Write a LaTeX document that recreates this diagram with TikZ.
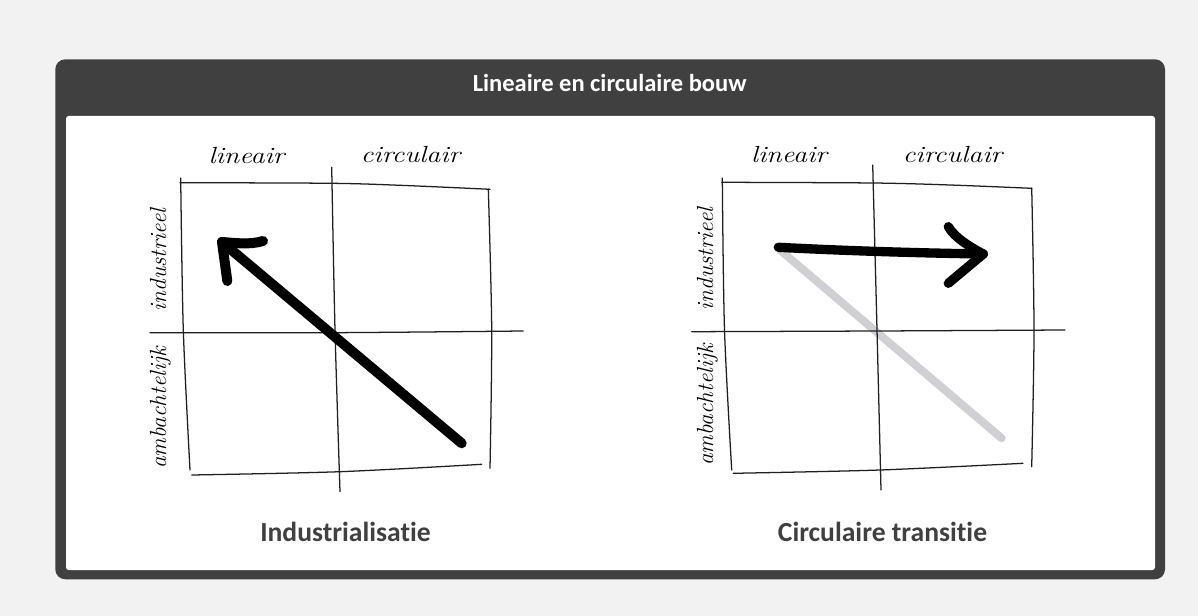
\documentclass[tikz,border=0pt]{standalone}
\usepackage{fontspec}
\newfontfamily\calib[Ligatures=NoCommon]{Carlito}
\definecolor{framegray}{HTML}{404040}
\definecolor{bggray}{HTML}{F2F2F2}
\definecolor{ghost}{HTML}{D0D0D4}
\tikzset{
  gridline/.style={line width=0.95pt, draw=black!88, line cap=round, line join=round},
  hand/.style={font=\fontsize{17.5}{20}\selectfont\itshape, text=black, inner sep=0pt},
  handx/.style={hand, xscale=1.2},
  fatstroke/.style={line width=7.5pt, draw=black, line cap=round, line join=round},
  ghoststroke/.style={line width=6pt, draw=ghost, line cap=round, line join=round},
  titletext/.style={font=\calib\bfseries\fontsize{18.4}{22}\selectfont, text=white, inner sep=0pt},
  captext/.style={font=\calib\bfseries\fontsize{20.7}{24}\selectfont, text=framegray, inner sep=0pt}
}
\begin{document}
\begin{tikzpicture}[x=0.75pt,y=-0.75pt]
\fill[bggray] (0,0) rectangle (1198,616);
\useasboundingbox (0,0) rectangle (1198,616);
% frame
\fill[framegray, rounded corners=7.5pt] (55.3,59.3) rectangle (1165,579.3);
\fill[white, rounded corners=2pt] (66,116) rectangle (1155,570);
\node[titletext, anchor=base] (title) at (609.7,91.3) {Lineaire en circulaire bouw};

% ---------- left diagram ----------
\coordinate (Lt1) at (180,182.7); \coordinate (Lt2) at (332,183.3); \coordinate (Lt3) at (405,185.5); \coordinate (Lt4) at (490,189.3);
\coordinate (Ll1) at (180.7,178); \coordinate (Ll2) at (183.3,330); \coordinate (Ll3) at (190,470);
\coordinate (Lb1) at (191.7,475); \coordinate (Lb2) at (340,471.7); \coordinate (Lb3) at (481.7,464.3);
\coordinate (Lr1) at (488.3,189); \coordinate (Lr2) at (491.7,330); \coordinate (Lr3) at (490,468.3);
\coordinate (Lv1) at (331.7,167.3); \coordinate (Lv2) at (335,330); \coordinate (Lv3) at (340,491.7);
\coordinate (Lh1) at (150,332.7); \coordinate (Lh2) at (333,332.7); \coordinate (Lh3) at (523.3,331);
\draw[gridline] plot[smooth] coordinates {(Lt1) (Lt2) (Lt3) (Lt4)};
\draw[gridline] plot[smooth] coordinates {(Ll1) (Ll2) (Ll3)};
\draw[gridline] plot[smooth] coordinates {(Lb1) (Lb2) (Lb3)};
\draw[gridline] plot[smooth] coordinates {(Lr1) (Lr2) (Lr3)};
\draw[gridline] plot[smooth] coordinates {(Lv1) (Lv2) (Lv3)};
\draw[gridline] plot[smooth] coordinates {(Lh1) (Lh2) (Lh3)};
\node[handx, anchor=base] (Llin) at (246.5,163.3) {lineair};
\node[handx, anchor=base] (Lcirc) at (410.5,163) {circulair};
\node[hand, rotate=90, anchor=base] (Lind) at (166,260) {industrieel};
\node[hand, rotate=90, anchor=base] (Lamb) at (166,408) {ambachtelijk};
% arrow
\coordinate (Ltail) at (461.7,443.3);
\coordinate (Ltip) at (222,242);
\coordinate (Lh-up) at (263,241);
\coordinate (Lh-dn) at (227.3,281);
\draw[fatstroke] (Ltail) -- (Ltip);
\draw[fatstroke] (Lh-up) .. controls (250,245) and (235,243) .. (Ltip) -- (Lh-dn);
\node[captext, anchor=base] (Lcap) at (345.5,541.7) {Industrialisatie};

% ---------- right diagram ----------
\coordinate (Gs) at (780,250); \coordinate (Ge) at (1001.7,438.3);
\draw[ghoststroke] (Gs) -- (Ge);
\coordinate (Rt1) at (721.7,182.3); \coordinate (Rt2) at (873,183); \coordinate (Rt3) at (950,185); \coordinate (Rt4) at (1031.7,188.3);
\coordinate (Rl1) at (722.3,178); \coordinate (Rl2) at (724.5,330); \coordinate (Rl3) at (731.7,470);
\coordinate (Rb1) at (733.3,473.3); \coordinate (Rb2) at (880,470); \coordinate (Rb3) at (1023,463.3);
\coordinate (Rr1) at (1031.7,188); \coordinate (Rr2) at (1034,330); \coordinate (Rr3) at (1031.7,466.7);
\coordinate (Rv1) at (872.7,165); \coordinate (Rv2) at (877,330); \coordinate (Rv3) at (881,490);
\coordinate (Rh1) at (691.7,331.7); \coordinate (Rh2) at (877,331); \coordinate (Rh3) at (1065,330);
\draw[gridline] plot[smooth] coordinates {(Rt1) (Rt2) (Rt3) (Rt4)};
\draw[gridline] plot[smooth] coordinates {(Rl1) (Rl2) (Rl3)};
\draw[gridline] plot[smooth] coordinates {(Rb1) (Rb2) (Rb3)};
\draw[gridline] plot[smooth] coordinates {(Rr1) (Rr2) (Rr3)};
\draw[gridline] plot[smooth] coordinates {(Rv1) (Rv2) (Rv3)};
\draw[gridline] plot[smooth] coordinates {(Rh1) (Rh2) (Rh3)};
\node[handx, anchor=base] (Rlin) at (789,162.7) {lineair};
\node[handx, anchor=base] (Rcirc) at (952.5,162.7) {circulair};
\node[hand, rotate=90, anchor=base] (Rind) at (713,259) {industrieel};
\node[hand, rotate=90, anchor=base] (Ramb) at (713,405) {ambachtelijk};
% arrow
\coordinate (Rtail) at (778.3,247.3);
\coordinate (Rtip) at (983.3,254);
\coordinate (Rh-up) at (948.3,226.7);
\coordinate (Rh-dn) at (948.3,283.3);
\draw[fatstroke, line width=7pt] (Rtail) .. controls (850,251) and (920,253) .. (Rtip);
\draw[fatstroke, line width=7pt] (Rh-up) .. controls (955,238) and (970,247) .. (Rtip) -- (Rh-dn);
\node[captext, anchor=base] (Rcap) at (882.5,541.7) {Circulaire transitie};
\end{tikzpicture}
\end{document}
